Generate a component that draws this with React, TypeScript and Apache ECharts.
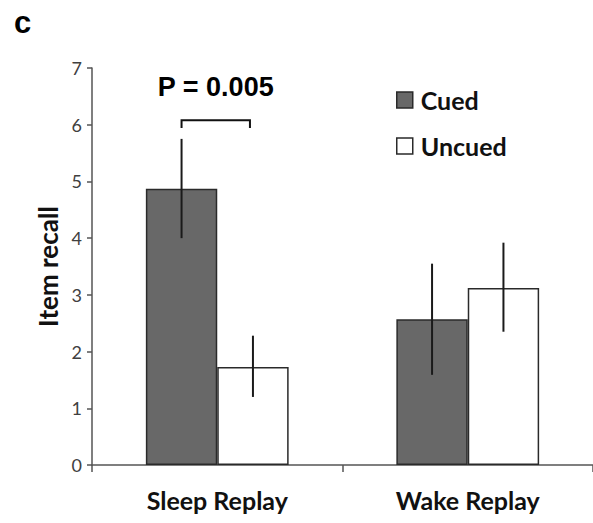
import React, { useEffect, useRef } from "react";
import * as echarts from "echarts";

const categories = ["Sleep Replay", "Wake Replay"];
const cuedValues = [4.87, 2.57];
const uncuedValues = [1.73, 3.12];
const cuedErrLow = [4.0, 1.59];
const cuedErrHigh = [5.75, 3.55];
const uncuedErrLow = [1.2, 2.35];
const uncuedErrHigh = [2.28, 3.92];
const yTicks = [0, 1, 2, 3, 4, 5, 6, 7];
const bracketTop = 6.08;
const bracketLeg = 5.94;
const pLabel = "P = 0.005";

const CAT_GAP = 0.43;
const FONT = "Lato, 'Open Sans', 'Liberation Sans', sans-serif";

export default function App() {
  const ref = useRef<HTMLDivElement>(null);
  useEffect(() => {
    if (!ref.current) return;
    const chart = echarts.init(ref.current, undefined, { renderer: "svg" });

    const errSeries = (name: string, low: number[], high: number[], side: number) => ({
      type: "custom",
      name: name + "-err",
      silent: true,
      z: 5,
      data: categories.map((_, i) => [i, low[i], high[i]]),
      renderItem: (params: any, api: any) => {
        const band = api.size([1, 0])[0];
        const barW = (band * (1 - CAT_GAP)) / 2;
        const cx = api.coord([api.value(0), 0])[0] + side * barW / 2;
        const y1 = api.coord([api.value(0), api.value(1)])[1];
        const y2 = api.coord([api.value(0), api.value(2)])[1];
        return {
          type: "line",
          shape: { x1: cx, y1, x2: cx, y2 },
          style: { stroke: "#1a1a1a", lineWidth: 2 },
        };
      },
    });

    chart.setOption({
      animation: false,
      backgroundColor: "#ffffff",
      title: {
        text: "c",
        left: 9,
        top: 2,
        textStyle: { fontSize: 31, fontWeight: "bold", color: "#000", fontFamily: "'Liberation Sans', Arial, sans-serif" },
      },
      legend: {
        orient: "vertical",
        left: 396,
        top: 86,
        padding: 0,
        itemWidth: 16,
        itemHeight: 16,
        itemGap: 18,
        icon: "rect",
        textStyle: { fontSize: 25, fontWeight: "bold", color: "#111", fontFamily: FONT, lineHeight: 28, padding: [0, 0, 0, 3] },
        data: [
          { name: "Cued", itemStyle: { color: "#686868", borderColor: "#2a2a2a", borderWidth: 1.5 } },
          { name: "Uncued", itemStyle: { color: "#ffffff", borderColor: "#2a2a2a", borderWidth: 1.5 } },
        ],
      },
      grid: { left: 92, right: -2, top: 68, bottom: 58, containLabel: false },
      xAxis: {
        type: "category",
        data: categories,
        axisLine: { lineStyle: { color: "#555", width: 1.5 } },
        axisTick: { show: true, length: 7, lineStyle: { color: "#555", width: 1.5 } },
        axisLabel: { fontSize: 25, fontWeight: "bold", color: "#111", fontFamily: FONT, margin: 22 },
      },
      yAxis: {
        type: "value",
        min: yTicks[0],
        max: yTicks[yTicks.length - 1],
        interval: 1,
        name: "Item recall",
        nameLocation: "middle",
        nameGap: 31,
        nameTextStyle: { fontSize: 26, fontWeight: "bold", color: "#111", fontFamily: FONT },
        splitLine: { show: false },
        axisLine: { show: true, lineStyle: { color: "#555", width: 1.5 } },
        axisTick: { show: true, length: 5, lineStyle: { color: "#555", width: 1.5 } },
        axisLabel: { fontSize: 18, color: "#404040", fontFamily: FONT, margin: 10 },
      },
      series: [
        {
          type: "bar",
          name: "Cued",
          data: cuedValues,
          barGap: "0%",
          barCategoryGap: CAT_GAP * 100 + "%",
          itemStyle: { color: "#686868", borderColor: "#2a2a2a", borderWidth: 1.5 },
        },
        {
          type: "bar",
          name: "Uncued",
          data: uncuedValues,
          barGap: "0%",
          barCategoryGap: CAT_GAP * 100 + "%",
          itemStyle: { color: "#ffffff", borderColor: "#2a2a2a", borderWidth: 1.5 },
        },
        errSeries("Cued", cuedErrLow, cuedErrHigh, -1),
        errSeries("Uncued", uncuedErrLow, uncuedErrHigh, 1),
        {
          type: "custom",
          name: "bracket",
          silent: true,
          data: [[0, bracketTop, bracketLeg]],
          renderItem: (params: any, api: any) => {
            const band = api.size([1, 0])[0];
            const barW = (band * (1 - CAT_GAP)) / 2;
            const c = api.coord([api.value(0), api.value(1)]);
            const yLeg = api.coord([api.value(0), api.value(2)])[1];
            const xl = c[0] - barW / 2;
            const xr = c[0] + barW / 2 - 3;
            return {
              type: "group",
              children: [
                {
                  type: "polyline",
                  shape: { points: [[xl, yLeg], [xl, c[1]], [xr, c[1]], [xr, yLeg]] },
                  style: { stroke: "#111", lineWidth: 2, fill: "none" },
                },
                {
                  type: "text",
                  style: {
                    text: pLabel,
                    x: (xl + xr) / 2,
                    y: c[1] - 20,
                    align: "center",
                    verticalAlign: "bottom",
                    fontSize: 27,
                    fontWeight: "bold",
                    fill: "#000",
                    fontFamily: "'Liberation Sans', Arial, sans-serif",
                  },
                },
              ],
            };
          },
        },
      ],
    });
    return () => chart.dispose();
  }, []);
  return <div ref={ref} style={{ position: "fixed", left: 0, top: 0, width: 593, height: 523 }} />;
}
